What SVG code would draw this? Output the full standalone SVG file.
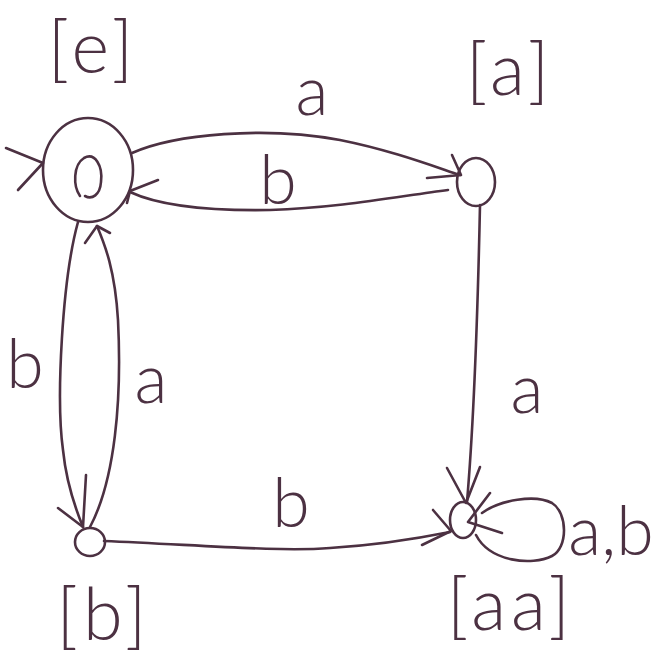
<svg xmlns="http://www.w3.org/2000/svg" width="659" height="657" viewBox="0 0 659 657">
<style>
.ln{fill:none;stroke:#4c3142;stroke-width:2.6;stroke-linecap:round;stroke-linejoin:round}
.t{fill:#4c3142;font-family:"Lato","Liberation Sans",sans-serif;font-weight:300;text-anchor:middle}
.st{font-size:72px;letter-spacing:5px}
.el{font-size:68px}
</style>
<rect width="659" height="657" fill="#ffffff"/>
<g id="node-e">
<ellipse class="ln" cx="88" cy="170" rx="45" ry="52"/>
<path class="ln" d="M80,196 C73,186 73,165 84,158 C95,152 103,166 101,182 C100,195 92,200 85,196"/>
<text class="t st" x="93" y="73">[e]</text>
</g>
<g id="node-a">
<ellipse class="ln" cx="476" cy="182" rx="19" ry="24"/>
<text class="t st" x="510" y="95">[a]</text>
</g>
<g id="node-b">
<ellipse class="ln" cx="90" cy="542" rx="15" ry="14"/>
<text class="t st" x="104" y="640">[b]</text>
</g>
<g id="node-aa">
<ellipse class="ln" cx="463" cy="520" rx="13" ry="18"/>
<text class="t st" x="511" y="630">[aa]</text>
</g>
<g id="connectors">
<path class="ln" d="M6,148 L43,163 M18,190 L43,163"/>
<path class="ln" d="M132,153 C175,134 265,126 340,140 C390,150 430,165 460,175"/>
<path class="ln" d="M452,155 L461,175 L427,178"/>
<text class="t el" x="312" y="115">a</text>
<path class="ln" d="M448,190 C400,196 340,208 270,210 C210,211 160,206 130,192"/>
<path class="ln" d="M158,180 L130,191 L127,203"/>
<text class="t el" x="278" y="204">b</text>
<path class="ln" d="M78,222 C62,280 56,400 63,450 C66,480 76,510 83,527"/>
<path class="ln" d="M58,508 L83,527 L86,475"/>
<text class="t el" x="25" y="388">b</text>
<path class="ln" d="M90,527 C115,480 122,400 118,320 C115,270 105,245 97,226"/>
<path class="ln" d="M85,243 L97,226 L110,233"/>
<text class="t el" x="151" y="403">a</text>
<path class="ln" d="M480,205 C478,300 474,420 467,502"/>
<path class="ln" d="M447,468 L466,503 L480,467"/>
<text class="t el" x="527" y="413">a</text>
<path class="ln" d="M104,541 C200,545 280,552 330,548 C380,545 420,538 450,532"/>
<path class="ln" d="M433,510 L451,531 L422,545"/>
<text class="t el" x="291" y="527">b</text>
<path class="ln" d="M482,513 C500,500 535,494 552,503 C568,513 568,548 552,556 C532,566 490,562 476,535"/>
<path class="ln" d="M490,493 L468,522 L502,533"/>
<text class="t el" x="611" y="555">a,b</text>
</g>
</svg>
